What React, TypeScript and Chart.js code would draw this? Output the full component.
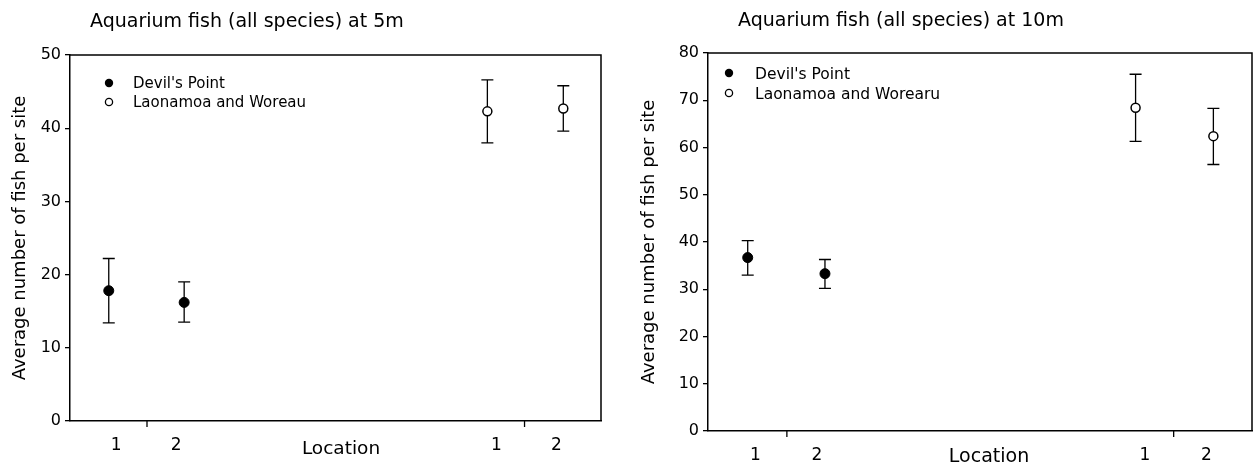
import React, { useEffect, useRef } from "react";
import { Chart, registerables } from "chart.js";

Chart.register(...registerables);

const FONT = '"DejaVu Sans", "Liberation Sans", sans-serif';

// ---------- data ----------
const seriesDevil = "Devil's Point";
const seriesLaon5 = "Laonamoa and Woreau";
const seriesLaon10 = "Laonamoa and Worearu";

const title5 = "Aquarium fish (all species) at 5m";
const title10 = "Aquarium fish (all species) at 10m";
const yTitle = "Average number of fish per site";
const xTitle = "Location";

// slot positions on the location axis (0..10)
const devilSlots = [0.73, 2.15];
const laonSlots = [7.86, 9.29];
const tickLabelSlots = [0.87, 2.0, 8.03, 9.16];
const tickLabels = ["1", "2", "1", "2"];
const separatorSlots = [1.45, 8.56];

// 5 m
const devilMean5 = [17.8, 16.2];
const devilLow5 = [13.4, 13.5];
const devilHigh5 = [22.2, 19.0];
const laonMean5 = [42.3, 42.7];
const laonLow5 = [38.0, 39.6];
const laonHigh5 = [46.6, 45.8];

// 10 m
const devilMean10 = [36.7, 33.3];
const devilLow10 = [33.0, 30.2];
const devilHigh10 = [40.3, 36.3];
const laonMean10 = [68.4, 62.4];
const laonLow10 = [61.3, 56.4];
const laonHigh10 = [75.5, 68.3];

type Layout = {
  yMax: number;
  areaLeft: number;
  areaRight: number;
  areaTop: number;
  areaBottom: number;
  titleX: number;
  titleY: number;
  titleSize: number;
  legendDx: number;
  legendDy: number;
  legendTextDx: number;
  legendGap: number;
  legendSize: number;
  yTitlePad: number;
  xTitleX: number;
  xTitleY: number;
  xTitleSize: number;
  xTickPad: number;
};

const W = 629;
const H = 469;

function makeConfig(
  title: string,
  laonName: string,
  dMean: number[],
  dLow: number[],
  dHigh: number[],
  lMean: number[],
  lLow: number[],
  lHigh: number[],
  L: Layout
): any {
  const errorBars = {
    id: "errorBars",
    beforeDatasetsDraw(chart: any) {
      const ctx = chart.ctx;
      const xs = chart.scales.x;
      const ys = chart.scales.y;
      ctx.save();
      ctx.strokeStyle = "#000";
      ctx.lineWidth = 1.3;
      chart.data.datasets.forEach((ds: any) => {
        ds.data.forEach((p: any, j: number) => {
          const x = xs.getPixelForValue(p.x);
          const y1 = ys.getPixelForValue(ds.errLow[j]);
          const y2 = ys.getPixelForValue(ds.errHigh[j]);
          ctx.beginPath();
          ctx.moveTo(x, y1);
          ctx.lineTo(x, y2);
          ctx.moveTo(x - 6, y1);
          ctx.lineTo(x + 6, y1);
          ctx.moveTo(x - 6, y2);
          ctx.lineTo(x + 6, y2);
          ctx.stroke();
        });
      });
      ctx.restore();
    },
  };

  const decor = {
    id: "decor",
    afterDraw(chart: any) {
      const ctx = chart.ctx;
      const a = chart.chartArea;
      const xs = chart.scales.x;
      ctx.save();
      // frame top & right
      ctx.strokeStyle = "#000";
      ctx.lineWidth = 1.5;
      ctx.beginPath();
      ctx.moveTo(a.left, a.top);
      ctx.lineTo(a.right, a.top);
      ctx.lineTo(a.right, a.bottom);
      ctx.stroke();
      // separator ticks on location axis
      ctx.lineWidth = 1.3;
      separatorSlots.forEach((s) => {
        const x = xs.getPixelForValue(s);
        ctx.beginPath();
        ctx.moveTo(x, a.bottom);
        ctx.lineTo(x, a.bottom + 6);
        ctx.stroke();
      });
      // chart title
      ctx.fillStyle = "#000";
      ctx.font = `${L.titleSize}px ${FONT}`;
      ctx.textAlign = "left";
      ctx.textBaseline = "alphabetic";
      ctx.fillText(title, L.titleX, L.titleY);
      // x axis title
      ctx.font = `${L.xTitleSize}px ${FONT}`;
      ctx.textAlign = "center";
      ctx.textBaseline = "middle";
      ctx.fillText(xTitle, L.xTitleX, L.xTitleY);
      // legend
      const names = [chart.data.datasets[0].label, chart.data.datasets[1].label];
      ctx.font = `${L.legendSize}px ${FONT}`;
      ctx.textAlign = "left";
      ctx.textBaseline = "middle";
      names.forEach((n: string, i: number) => {
        const cx = a.left + L.legendDx;
        const cy = a.top + L.legendDy + i * L.legendGap;
        ctx.beginPath();
        ctx.arc(cx, cy, i === 0 ? 4.2 : 3.6, 0, Math.PI * 2);
        if (i === 0) {
          ctx.fillStyle = "#000";
          ctx.fill();
        } else {
          ctx.fillStyle = "#fff";
          ctx.fill();
          ctx.lineWidth = 1.3;
          ctx.strokeStyle = "#000";
          ctx.stroke();
        }
        ctx.fillStyle = "#000";
        ctx.fillText(n, a.left + L.legendTextDx, cy + 1.5);
      });
      ctx.restore();
    },
  };

  return {
    type: "scatter",
    data: {
      datasets: [
        {
          label: seriesDevil,
          data: devilSlots.map((x, i) => ({ x, y: dMean[i] })),
          errLow: dLow,
          errHigh: dHigh,
          pointRadius: 5,
          pointBackgroundColor: "#000",
          pointBorderColor: "#000",
          pointBorderWidth: 1,
          showLine: false,
        },
        {
          label: laonName,
          data: laonSlots.map((x, i) => ({ x, y: lMean[i] })),
          errLow: lLow,
          errHigh: lHigh,
          pointRadius: 4.5,
          pointBackgroundColor: "#fff",
          pointBorderColor: "#000",
          pointBorderWidth: 1.5,
          showLine: false,
        },
      ],
    },
    options: {
      animation: false,
      responsive: false,
      devicePixelRatio: 1,
      events: [],
      layout: {
        padding: { top: L.areaTop, right: W - L.areaRight, left: 0, bottom: 0 },
      },
      plugins: {
        legend: { display: false },
        tooltip: { enabled: false },
        title: { display: false },
      },
      scales: {
        x: {
          type: "linear",
          min: 0,
          max: 10,
          afterBuildTicks: (scale: any) => {
            scale.ticks = tickLabelSlots.map((v) => ({ value: v }));
          },
          afterFit: (scale: any) => {
            scale.height = H - L.areaBottom;
          },
          ticks: {
            autoSkip: false,
            maxRotation: 0,
            padding: L.xTickPad,
            color: "#000",
            font: { family: FONT, size: 17 },
            callback: (_v: any, i: number) => tickLabels[i],
          },
          grid: { display: false },
          border: { display: true, color: "#000", width: 1.5 },
          title: { display: false },
        },
        y: {
          type: "linear",
          min: 0,
          max: L.yMax,
          afterFit: (scale: any) => {
            scale.width = L.areaLeft;
          },
          ticks: {
            stepSize: 10,
            padding: 4,
            color: "#000",
            font: { family: FONT, size: 16 },
          },
          grid: {
            drawOnChartArea: false,
            drawTicks: true,
            tickLength: 5,
            color: "#000",
            lineWidth: 1.3,
          },
          border: { display: true, color: "#000", width: 1.5 },
          title: {
            display: true,
            text: yTitle,
            color: "#000",
            font: { family: FONT, size: 18 },
            padding: { top: L.yTitlePad, bottom: 0 },
          },
        },
      },
    },
    plugins: [errorBars, decor],
  };
}

function FishChart(props: { left: number; config: any }) {
  const ref = useRef<HTMLCanvasElement>(null);
  useEffect(() => {
    const chart = new Chart(ref.current as HTMLCanvasElement, props.config);
    return () => chart.destroy();
  }, []);
  return (
    <canvas
      ref={ref}
      width={W}
      height={H}
      style={{ position: "absolute", left: props.left, top: 0, width: W, height: H }}
    />
  );
}

const layout5: Layout = {
  yMax: 50,
  areaLeft: 70,
  areaRight: 601,
  areaTop: 55,
  areaBottom: 421,
  titleX: 90,
  titleY: 27,
  titleSize: 19,
  legendDx: 39,
  legendDy: 28,
  legendTextDx: 63,
  legendGap: 19,
  legendSize: 15,
  yTitlePad: 10,
  xTitleX: 341,
  xTitleY: 449,
  xTitleSize: 18.5,
  xTickPad: 6,
};

const layout10: Layout = {
  yMax: 80,
  areaLeft: 79,
  areaRight: 625,
  areaTop: 53,
  areaBottom: 431,
  titleX: 109,
  titleY: 26,
  titleSize: 19,
  legendDx: 21,
  legendDy: 20,
  legendTextDx: 47,
  legendGap: 20,
  legendSize: 15.5,
  yTitlePad: 10,
  xTitleX: 989 - 629,
  xTitleY: 457,
  xTitleSize: 19,
  xTickPad: 6,
};

const config5 = makeConfig(title5, seriesLaon5, devilMean5, devilLow5, devilHigh5, laonMean5, laonLow5, laonHigh5, layout5);
const config10 = makeConfig(title10, seriesLaon10, devilMean10, devilLow10, devilHigh10, laonMean10, laonLow10, laonHigh10, layout10);

export default function App() {
  return (
    <div style={{ position: "absolute", left: 0, top: 0, width: 1258, height: 469, background: "#fff" }}>
      <FishChart left={0} config={config5} />
      <FishChart left={629} config={config10} />
    </div>
  );
}
